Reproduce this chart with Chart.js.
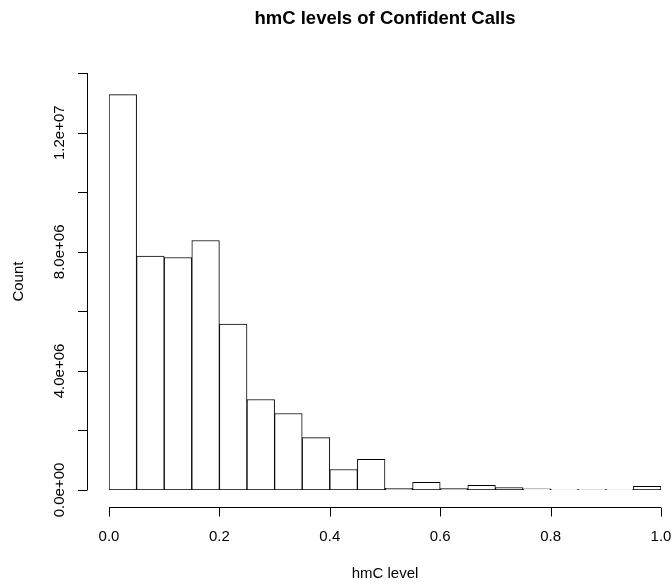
<!DOCTYPE html>
<html lang="en">
<head>
<meta charset="UTF-8"/>
<title>hmC levels of Confident Calls</title>
<script src="https://cdn.jsdelivr.net/npm/chart.js"></script>
<style>
 body{margin:0;background:#fff}
 canvas{display:block}
</style>
</head>
<body>
<canvas id="hist" width="672" height="586"></canvas>

<script>
// histogram bins (midpoints of 0.05 wide bins) and counts
const binMid = [0.025,0.075,0.125,0.175,0.225,0.275,0.325,0.375,0.425,0.475,
                0.525,0.575,0.625,0.675,0.725,0.775,0.825,0.875,0.925,0.975];
const counts = [13280000,7855000,7810000,8380000,5570000,3040000,2570000,1760000,690000,1030000,
                60000,260000,50000,160000,80000,40000,20000,10000,20000,120000];

const xTicks = [0,0.2,0.4,0.6,0.8,1.0];
const xTickLabels = ['0.0','0.2','0.4','0.6','0.8','1.0'];
const yTicks = [0,2e6,4e6,6e6,8e6,1e7,1.2e7,1.4e7];
const yTickLabels = ['0.0e+00','','4.0e+06','','8.0e+06','','1.2e+07',''];

const FONT = '"Liberation Sans", Arial, Helvetica, sans-serif';

// R style axes, drawn detached from the plot region
const rAxes = {
  id:'rAxes',
  afterDraw(chart){
    const {ctx, chartArea:a, scales:{x,y}} = chart;
    ctx.save();
    ctx.strokeStyle='#000'; ctx.fillStyle='#000'; ctx.lineWidth=1;
    ctx.font='15px '+FONT;

    // y axis
    const ax = 87.5;
    ctx.beginPath();
    ctx.moveTo(ax, y.getPixelForValue(yTicks[0]));
    ctx.lineTo(ax, y.getPixelForValue(yTicks[yTicks.length-1]));
    yTicks.forEach(v=>{
      const py=Math.round(y.getPixelForValue(v))+0.5;
      ctx.moveTo(ax,py); ctx.lineTo(ax-9.5,py);
    });
    ctx.stroke();
    yTicks.forEach((v,i)=>{
      if(!yTickLabels[i]) return;
      ctx.save();
      ctx.translate(60, y.getPixelForValue(v));
      ctx.rotate(-Math.PI/2);
      ctx.textAlign='center'; ctx.textBaseline='middle';
      ctx.fillText(yTickLabels[i],0,0);
      ctx.restore();
    });

    // x axis
    const ay = 507.5;
    ctx.beginPath();
    ctx.moveTo(x.getPixelForValue(xTicks[0]), ay);
    ctx.lineTo(x.getPixelForValue(xTicks[xTicks.length-1]), ay);
    xTicks.forEach(v=>{
      const px=Math.round(x.getPixelForValue(v))+0.5;
      ctx.moveTo(px,ay); ctx.lineTo(px,ay+9);
    });
    ctx.stroke();
    ctx.textAlign='center'; ctx.textBaseline='middle';
    xTicks.forEach((v,i)=>ctx.fillText(xTickLabels[i], x.getPixelForValue(v), 537));

    // axis titles
    ctx.fillText('hmC level', (a.left+a.right)/2, 574);
    ctx.save();
    ctx.translate(19,(a.top+a.bottom)/2);
    ctx.rotate(-Math.PI/2);
    ctx.fillText('Count',0,0);
    ctx.restore();
    ctx.restore();
  }
};

new Chart(document.getElementById('hist'),{
  type:'bar',
  data:{datasets:[{
    data: binMid.map((m,i)=>({x:m,y:counts[i]})),
    backgroundColor:'#fff',
    borderColor:'#000',
    borderWidth:1,
    borderSkipped:false,
    barPercentage:1,
    categoryPercentage:1
  }]},
  options:{
    responsive:false,
    animation:false,
    layout:{padding:{left:109,right:11,top:0,bottom:96}},
    plugins:{
      legend:{display:false},
      tooltip:{enabled:false},
      title:{display:true,text:'hmC levels of Confident Calls',color:'#000',
             font:{family:FONT,size:18.5,weight:'bold'},padding:{top:8,bottom:43}}
    },
    scales:{
      x:{type:'linear',min:0,max:1,offset:false,display:false},
      y:{min:0,max:1.4e7,display:false}
    }
  },
  plugins:[rAxes]
});
</script>
</body>
</html>
